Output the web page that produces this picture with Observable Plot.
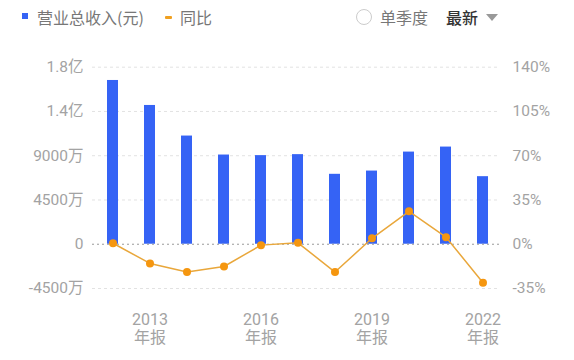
<!DOCTYPE html>
<html><head><meta charset="utf-8">
<script src="https://cdn.jsdelivr.net/npm/d3@7"></script>
<script src="https://cdn.jsdelivr.net/npm/@observablehq/plot@0.6"></script>
<style>
body{margin:0;background:#fff;font-family:Roboto,"Noto Sans CJK SC",sans-serif;}
#wrap{position:relative;width:574px;height:360px;overflow:hidden;}
#legend{position:relative;height:36px;width:574px;}
#legend .t{position:absolute;top:6px;font-size:16px;line-height:22px;color:#777;font-family:"Noto Sans CJK SC",sans-serif;white-space:nowrap;}
#chart svg{display:block;}
</style></head><body>
<div id="wrap">
  <div id="legend">
    <div style="position:absolute;left:22px;top:13px;width:6px;height:6px;background:#3563f5;"></div>
    <div class="t" style="left:37px;">营业总收入(元)</div>
    <div style="position:absolute;left:165px;top:16px;width:7px;height:3px;background:#f0a020;border-radius:1px;"></div>
    <div class="t" style="left:180px;">同比</div>
    <div style="position:absolute;left:356px;top:9px;width:16px;height:16px;border:1px solid #ccc;border-radius:50%;box-sizing:border-box;"></div>
    <div class="t" style="left:380px;">单季度</div>
    <div class="t" style="left:446px;color:#333;font-weight:500;">最新</div>
    <div style="position:absolute;left:486px;top:14px;width:0;height:0;border-left:6px solid transparent;border-right:6px solid transparent;border-top:7px solid #999;"></div>
  </div>
  <div id="chart"></div>
</div>
<script>
const years = ["2012","2013","2014","2015","2016","2017","2018","2019","2020","2021","2022"];
const revenue = [166500000, 141100000, 110000000, 90700000, 90100000, 91100000, 71100000, 74400000, 93700000, 98800000, 68700000];
const yoy = [0.8, -15.2, -22.0, -17.6, -0.7, 1.1, -22.0, 4.7, 26.0, 5.6, -30.4];
const xTickYears = ["2013","2016","2019","2022"];
const leftTicks = [-45000000, 0, 45000000, 90000000, 135000000, 180000000];
const leftTickLabels = ["-4500万","0","4500万","9000万","1.4亿","1.8亿"];
const rightTicks = [-35, 0, 35, 70, 105, 140];
const rightTickLabels = ["-35%","0%","35%","70%","105%","140%"];

const k = 45000000 / 35;
const data = years.map((y, i) => ({year: y, revenue: revenue[i], yoyScaled: yoy[i] * k}));
const leftMap = new Map(leftTicks.map((d, i) => [d, leftTickLabels[i]]));
const rightScaled = rightTicks.map(d => d * k);
const rightMap = new Map(rightScaled.map((d, i) => [d, rightTickLabels[i]]));

const chart = Plot.plot({
  width: 574, height: 324,
  marginLeft: 90, marginRight: 69, marginTop: 30.7, marginBottom: 72,
  x: {type: "band", domain: years, paddingInner: 0.7, paddingOuter: 0.35, axis: null, label: null},
  y: {domain: [-45000000, 180000000], axis: null, label: null},
  style: {fontFamily: 'Roboto, "Noto Sans CJK SC", sans-serif', fontSize: "15px", background: "#fff", color: "#a3a3a3"},
  marks: [
    Plot.ruleY(leftTicks.filter(d => d !== 0), {stroke: "#e2e2e2", strokeDasharray: "3,3", insetLeft: 2, insetRight: 5}),
    Plot.barY(data, {x: "year", y: "revenue", fill: "#3563f5"}),
    Plot.ruleY([0], {stroke: "#9a9a9a", strokeDasharray: "2,3", insetLeft: 2, insetRight: 5}),
    Plot.line(data, {x: "year", y: "yoyScaled", stroke: "#e9a73b", strokeWidth: 1.5}),
    Plot.dot(data, {x: "year", y: "yoyScaled", r: 4, fill: "#f5960f"}),
    Plot.axisY(leftTicks, {anchor: "left", label: null, tickSize: 0, tickPadding: 7, tickFormat: d => leftMap.get(d), fill: "#a3a3a3", fontSize: 15.5}),
    Plot.axisY(rightScaled, {anchor: "right", label: null, tickSize: 0, tickPadding: 7, tickFormat: d => rightMap.get(d), fill: "#a3a3a3", fontSize: 15.5}),
    Plot.axisX(xTickYears, {anchor: "bottom", label: null, tickSize: 0, tickPadding: 24, tickFormat: d => d + "\n年报", lineHeight: 1.12, fill: "#a3a3a3", fontSize: 16})
  ]
});
document.getElementById("chart").appendChild(chart);
</script>
</body></html>
